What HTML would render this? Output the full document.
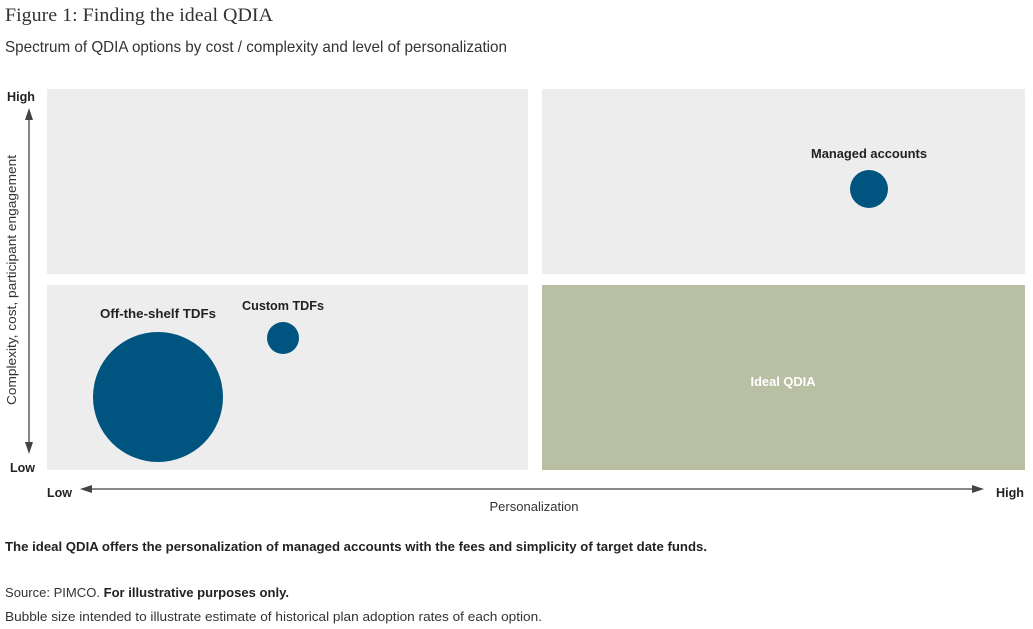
<!DOCTYPE html>
<html><head><style>
html,body{margin:0;padding:0;background:#fff;}
svg{display:block;}
</style></head><body>
<svg width="1033" height="629" viewBox="0 0 1033 629" xmlns="http://www.w3.org/2000/svg">
<text x="5" y="21" font-family="Liberation Serif, serif" font-size="19" fill="#333" textLength="268" lengthAdjust="spacingAndGlyphs">Figure 1: Finding the ideal QDIA</text>
<text x="5" y="52" font-family="Liberation Sans, sans-serif" font-size="16" fill="#333" textLength="502" lengthAdjust="spacingAndGlyphs">Spectrum of QDIA options by cost / complexity and level of personalization</text>
<rect x="47" y="89" width="481" height="185" fill="#ededee"/>
<rect x="542" y="89" width="483" height="185" fill="#ededee"/>
<rect x="47" y="285" width="481" height="185" fill="#ededee"/>
<rect x="542" y="285" width="483" height="185" fill="#b8bfa2"/>
<text x="7" y="101" font-family="Liberation Sans, sans-serif" font-weight="bold" font-size="13" fill="#222" textLength="28" lengthAdjust="spacingAndGlyphs">High</text>
<text x="10" y="472" font-family="Liberation Sans, sans-serif" font-weight="bold" font-size="13" fill="#222" textLength="25" lengthAdjust="spacingAndGlyphs">Low</text>
<line x1="29" y1="116" x2="29" y2="446" stroke="#444" stroke-width="1.3"/>
<polygon points="29,108 25,120 33,120" fill="#444"/>
<polygon points="29,454 25,442 33,442" fill="#444"/>
<text transform="translate(16,280) rotate(-90)" text-anchor="middle" font-family="Liberation Sans, sans-serif" font-size="13" fill="#333" textLength="250" lengthAdjust="spacingAndGlyphs">Complexity, cost, participant engagement</text>
<text x="47" y="497" font-family="Liberation Sans, sans-serif" font-weight="bold" font-size="13" fill="#222" textLength="25" lengthAdjust="spacingAndGlyphs">Low</text>
<text x="996" y="497" font-family="Liberation Sans, sans-serif" font-weight="bold" font-size="13" fill="#222" textLength="28" lengthAdjust="spacingAndGlyphs">High</text>
<line x1="88" y1="489" x2="976" y2="489" stroke="#444" stroke-width="1.3"/>
<polygon points="80,489 92,485 92,493" fill="#444"/>
<polygon points="984,489 972,485 972,493" fill="#444"/>
<text x="534" y="511" text-anchor="middle" font-family="Liberation Sans, sans-serif" font-size="13" fill="#333" textLength="89" lengthAdjust="spacingAndGlyphs">Personalization</text>
<circle cx="158" cy="397" r="65" fill="#005480"/>
<circle cx="283" cy="338" r="16" fill="#005480"/>
<circle cx="869" cy="189" r="19" fill="#005480"/>
<text x="158" y="318" text-anchor="middle" font-family="Liberation Sans, sans-serif" font-weight="bold" font-size="13" fill="#222" textLength="116" lengthAdjust="spacingAndGlyphs">Off-the-shelf TDFs</text>
<text x="283" y="310" text-anchor="middle" font-family="Liberation Sans, sans-serif" font-weight="bold" font-size="13" fill="#222" textLength="82" lengthAdjust="spacingAndGlyphs">Custom TDFs</text>
<text x="869" y="158" text-anchor="middle" font-family="Liberation Sans, sans-serif" font-weight="bold" font-size="13" fill="#222" textLength="116" lengthAdjust="spacingAndGlyphs">Managed accounts</text>
<text x="783" y="386" text-anchor="middle" font-family="Liberation Sans, sans-serif" font-weight="bold" font-size="13" fill="#fff" textLength="65" lengthAdjust="spacingAndGlyphs">Ideal QDIA</text>
<text x="5" y="551" font-family="Liberation Sans, sans-serif" font-weight="bold" font-size="13" fill="#222" textLength="702" lengthAdjust="spacingAndGlyphs">The ideal QDIA offers the personalization of managed accounts with the fees and simplicity of target date funds.</text>
<text x="5" y="597" font-family="Liberation Sans, sans-serif" font-size="13" fill="#333" textLength="284" lengthAdjust="spacingAndGlyphs">Source: PIMCO. <tspan font-weight="bold" fill="#222">For illustrative purposes only.</tspan></text>
<text x="5" y="621" font-family="Liberation Sans, sans-serif" font-size="13" fill="#333" textLength="537" lengthAdjust="spacingAndGlyphs">Bubble size intended to illustrate estimate of historical plan adoption rates of each option.</text>
</svg>
</body></html>
